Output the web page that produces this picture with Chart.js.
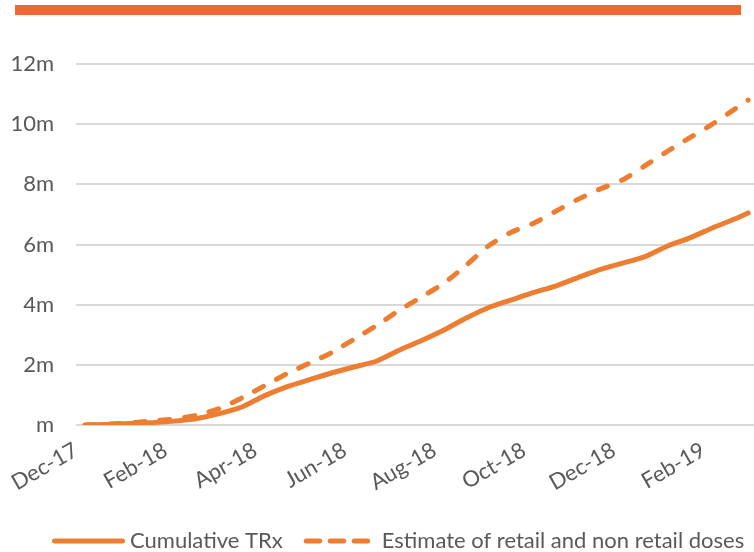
<!DOCTYPE html>
<html>
<head>
<meta charset="utf-8">
<script src="https://cdn.jsdelivr.net/npm/chart.js@4/dist/chart.umd.min.js"></script>
<style>
  html, body { margin: 0; padding: 0; background: #fff; }
  #wrap { position: relative; width: 754px; height: 552px; }
  #topbar { position: absolute; left: 15px; top: 5px; width: 726px; height: 10px; background: #f26835; }
  #chart { position: absolute; left: 0; top: 0; }
</style>
</head>
<body>
<div id="wrap">
  <div id="topbar"></div>
  <canvas id="chart" width="754" height="552"></canvas>
</div>
<script>
// months since the first data week (early Dec-17)
const months = [0, 0.5, 1, 1.5, 2, 2.5, 3, 3.5, 4, 4.5, 5, 5.5, 6, 6.5, 7, 7.5,
  8, 8.5, 9, 9.5, 10, 10.5, 11, 11.5, 12, 12.5, 13, 13.5, 14, 14.5, 14.8];

// millions of doses
const cumulativeTRx = [0, 0.02, 0.05, 0.08, 0.13, 0.22, 0.38, 0.6, 0.97, 1.27, 1.5, 1.73,
  1.93, 2.12, 2.48, 2.8, 3.15, 3.55, 3.9, 4.15, 4.4, 4.62, 4.9, 5.17, 5.38, 5.6,
  5.95, 6.22, 6.55, 6.85, 7.05];
const retailEstimate = [0, 0.03, 0.07, 0.14, 0.2, 0.33, 0.55, 0.9, 1.3, 1.7, 2.05, 2.4,
  2.85, 3.3, 3.8, 4.25, 4.7, 5.3, 5.95, 6.4, 6.7, 7.1, 7.5, 7.85, 8.15, 8.62,
  9.1, 9.55, 10.0, 10.5, 10.8];

const xTickPos = [0, 2, 4, 6, 8, 10, 12, 14];
const xTickLabels = ['Dec-17', 'Feb-18', 'Apr-18', 'Jun-18', 'Aug-18', 'Oct-18', 'Dec-18', 'Feb-19'];

const START = 0.2; // first week starts a few days after 1 Dec
const ORANGE = '#ed7d31';
const TEXT = '#595959';
const FONT = 'Lato';
const LEGEND_LEFT = 51;

const toPoints = (vals) => vals.map((v, i) => ({ x: months[i] + START, y: v }));

// legend sits a bit right of centre, and its samples are drawn by hand:
// longer line, tighter gap to the text
const legendSamples = {
  id: 'legendSamples',
  beforeDraw(chart) {
    const lg = chart.legend;
    if (!lg || !lg.legendHitBoxes || !lg.legendHitBoxes.length) return;
    const dx = LEGEND_LEFT - lg.legendHitBoxes[0].left;
    if (!dx) return;
    lg.left += dx;
    lg.right += dx;
    lg.legendHitBoxes.forEach((b) => { b.left += dx; });
  },
  afterDraw(chart) {
    const boxes = chart.legend && chart.legend.legendHitBoxes;
    if (!boxes) return;
    const ctx = chart.ctx;
    boxes.forEach((b, i) => {
      const ds = chart.data.datasets[i];
      const y = b.top + b.height / 2;
      ctx.save();
      ctx.strokeStyle = ds.borderColor;
      ctx.lineWidth = 5;
      ctx.lineCap = 'round';
      ctx.beginPath();
      if (ds.borderDash) {
        ctx.setLineDash([13.5, 10.5]);
        ctx.moveTo(b.left + 3.5, y);
        ctx.lineTo(b.left + 65, y);
      } else {
        ctx.moveTo(b.left + 3.5, y);
        ctx.lineTo(b.left + 71.5, y);
      }
      ctx.stroke();
      ctx.restore();
    });
  }
};

new Chart(document.getElementById('chart'), {
  type: 'line',
  data: {
    datasets: [
      {
        label: 'Cumulative TRx',
        data: toPoints(cumulativeTRx),
        borderColor: ORANGE,
        backgroundColor: ORANGE,
        borderWidth: 5,
        borderCapStyle: 'round',
        borderJoinStyle: 'round',
        pointRadius: 0,
        tension: 0.2,
      },
      {
        label: 'Estimate of retail and non retail doses',
        data: toPoints(retailEstimate),
        borderColor: ORANGE,
        backgroundColor: ORANGE,
        borderWidth: 5,
        borderDash: [10, 15],
        borderCapStyle: 'round',
        borderJoinStyle: 'round',
        pointRadius: 0,
        tension: 0.2,
      }
    ]
  },
  plugins: [legendSamples],
  options: {
    responsive: false,
    animation: false,
    layout: { padding: { top: 64, right: 0, left: 0, bottom: -10 } },
    plugins: {
      tooltip: { enabled: false },
      legend: {
        position: 'bottom',
        labels: {
          usePointStyle: true,
          pointStyle: 'line',
          pointStyleWidth: 68,
          padding: 20,
          color: TEXT,
          font: { family: FONT, size: 22 },
          generateLabels(chart) {
            const items = Chart.defaults.plugins.legend.labels.generateLabels(chart);
            items.forEach((it) => {
              it.pointStyle = 'line';
              it.lineWidth = 0;
              it.strokeStyle = 'rgba(0,0,0,0)';
            });
            return items;
          }
        }
      }
    },
    scales: {
      x: {
        type: 'linear',
        min: 0,
        max: 14.8 + START + 0.13,
        grid: { display: false },
        border: { display: false },
        afterBuildTicks(scale) {
          scale.ticks = xTickPos.map((v) => ({ value: v }));
        },
        afterFit(scale) { scale.height += 10; },
        ticks: {
          autoSkip: false,
          minRotation: 30,
          maxRotation: 30,
          padding: 4,
          color: TEXT,
          font: { family: FONT, size: 22 },
          callback(value) {
            const i = xTickPos.indexOf(value);
            return i >= 0 ? xTickLabels[i] : '';
          }
        }
      },
      y: {
        min: 0,
        max: 12,
        afterFit(scale) { scale.width = 76; },
        grid: { color: '#d9d9d9', lineWidth: 2, drawTicks: false },
        border: { display: false },
        ticks: {
          stepSize: 2,
          padding: 22,
          color: TEXT,
          font: { family: FONT, size: 22 },
          callback(value) { return value === 0 ? 'm' : value + 'm'; }
        }
      }
    }
  }
});
</script>
</body>
</html>
